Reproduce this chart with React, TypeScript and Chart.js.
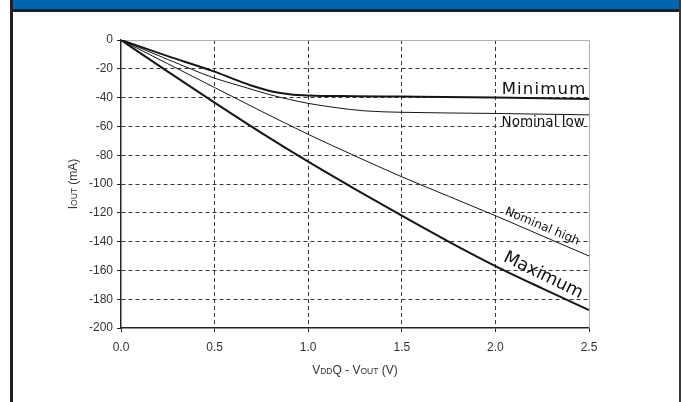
import React, { useEffect, useRef } from "react";
import { Chart, registerables } from "chart.js";

Chart.register(...registerables);

// ---- data ----
const minimumX = [0, 0.25, 0.5, 0.6, 0.7, 0.8, 0.9, 1.0, 1.25, 1.5, 2.0, 2.5];
const minimumY = [0, -11.2, -22, -27, -31.8, -35.6, -37.6, -38.5, -39, -39.3, -40, -41];

const nominalLowX = [0, 0.25, 0.5, 0.64, 0.79, 0.9, 1.0, 1.15, 1.3, 1.5, 2.0, 2.5];
const nominalLowY = [0, -13.5, -26.5, -32, -37.8, -41.3, -44, -47, -49.2, -50.2, -51, -52];

const nominalHighX = [0, 0.25, 0.5, 0.75, 1.0, 1.25, 1.5, 1.75, 2.0, 2.25, 2.5];
const nominalHighY = [0, -16.5, -33, -49.5, -65.5, -80.5, -95, -108.5, -122, -136, -150];

const maximumX = [0, 0.25, 0.5, 0.75, 1.0, 1.25, 1.5, 1.75, 2.0, 2.25, 2.5];
const maximumY = [0, -22, -43.5, -64.5, -84.5, -103.5, -122, -140, -157, -172.5, -187.5];

// curve labels: text, data position, rotation (deg), font size
const labelTexts = ["Minimum", "Nominal low", "Nominal high", "Maximum"];
const labelX = [2.26, 2.255, 2.25, 2.255];
const labelY = [-34.2, -57.6, -129.6, -163.5];
const labelAngle = [0, 0, 23, 26];
const labelSize = [16.5, 13.5, 12, 17.5];
const labelSpacing = [1.2, 0, 0, 0];

const xMin = 0, xMax = 2.5, xStep = 0.5;
const yMin = -200, yMax = 0, yStep = 20;

const xTitleParts: [string, boolean][] = [["V", false], ["DD", true], ["Q - V", false], ["OUT", true], [" (V)", false]];
const yTitleParts: [string, boolean][] = [["I", false], ["OUT", true], [" (mA)", false]];

const toPts = (xs: number[], ys: number[]) => xs.map((x, i) => ({ x, y: ys[i] }));

const FONT = "'Liberation Sans', Arial, sans-serif";

function drawRich(ctx: CanvasRenderingContext2D, parts: [string, boolean][], cx: number, cy: number) {
  const big = 12, small = 8.5;
  let total = 0;
  const widths = parts.map(([t, s]) => {
    ctx.font = `${s ? small : big}px ${FONT}`;
    const w = ctx.measureText(t).width;
    total += w;
    return w;
  });
  let x = cx - total / 2;
  ctx.textBaseline = "alphabetic";
  ctx.textAlign = "left";
  parts.forEach(([t, s], i) => {
    ctx.font = `${s ? small : big}px ${FONT}`;
    ctx.fillText(t, x, cy + 4.5);
    x += widths[i];
  });
}

const decorPlugin = {
  id: "decor",
  beforeDatasetsDraw(chart: any) {
    const { ctx, chartArea: a } = chart;
    ctx.save();
    ctx.strokeStyle = "#b0b0b0";
    ctx.lineWidth = 1;
    ctx.beginPath();
    ctx.moveTo(a.left, a.top + 0.5);
    ctx.lineTo(a.right + 0.5, a.top + 0.5);
    ctx.lineTo(a.right + 0.5, a.bottom);
    ctx.stroke();
    ctx.restore();
  },
  afterDraw(chart: any) {
    const { ctx, chartArea: a, scales } = chart;
    ctx.save();
    ctx.fillStyle = "#333";
    drawRich(ctx, xTitleParts, (a.left + a.right) / 2, a.bottom + 41);
    ctx.translate(a.left - 49, (a.top + a.bottom) / 2);
    ctx.rotate(-Math.PI / 2);
    drawRich(ctx, yTitleParts, 0, 0);
    ctx.restore();

    labelTexts.forEach((t, i) => {
      const px = scales.x.getPixelForValue(labelX[i]);
      const py = scales.y.getPixelForValue(labelY[i]);
      ctx.save();
      ctx.translate(px, py);
      ctx.rotate((labelAngle[i] * Math.PI) / 180);
      ctx.fillStyle = "#111";
      ctx.font = `${labelSize[i]}px 'DejaVu Sans', Verdana, sans-serif`;
      (ctx as any).letterSpacing = `${labelSpacing[i]}px`;
      ctx.textAlign = "center";
      ctx.textBaseline = "middle";
      ctx.fillText(t, 0, 0);
      ctx.restore();
    });
  },
};

export default function App() {
  const ref = useRef<HTMLCanvasElement | null>(null);
  useEffect(() => {
    if (!ref.current) return;
    const gridColor = (edgeA: number, edgeB: number) => (c: any) =>
      c.tick && (c.tick.value === edgeA || c.tick.value === edgeB) ? "rgba(0,0,0,0)" : "#3a3a3a";
    const chart = new Chart(ref.current, {
      type: "line",
      data: {
        datasets: [
          { label: "Minimum", data: toPts(minimumX, minimumY), borderColor: "#151515", borderWidth: 2 },
          { label: "Nominal low", data: toPts(nominalLowX, nominalLowY), borderColor: "#151515", borderWidth: 1 },
          { label: "Nominal high", data: toPts(nominalHighX, nominalHighY), borderColor: "#151515", borderWidth: 1 },
          { label: "Maximum", data: toPts(maximumX, maximumY), borderColor: "#151515", borderWidth: 2 },
        ].map((d) => ({ ...d, pointRadius: 0, fill: false, cubicInterpolationMode: "monotone" as const })),
      },
      options: {
        animation: false,
        responsive: false,
        maintainAspectRatio: false,
        layout: { padding: { left: 71, top: 40, right: 92, bottom: 44 } },
        plugins: { legend: { display: false }, tooltip: { enabled: false }, title: { display: false } },
        scales: {
          x: {
            type: "linear",
            min: xMin,
            max: xMax,
            afterFit: (s: any) => { s.height = 30; },
            ticks: {
              stepSize: xStep,
              callback: (v: any) => Number(v).toFixed(1),
              color: "#333",
              font: { family: FONT, size: 12 },
              padding: 8,
              maxRotation: 0,
            },
            grid: { color: gridColor(xMin, xMax), lineWidth: 1, tickLength: 4, tickColor: "#222", tickBorderDash: [] as number[], drawTicks: true },
            border: { display: true, color: "#222", width: 1.5, dash: [4, 3] },
          },
          y: {
            type: "linear",
            min: yMin,
            max: yMax,
            afterFit: (s: any) => { s.width = 50; },
            ticks: {
              stepSize: yStep,
              color: "#333",
              font: { family: FONT, size: 12 },
              padding: 4,
            },
            grid: { color: gridColor(yMin, yMax), lineWidth: 1, tickLength: 4, tickColor: "#222", tickBorderDash: [] as number[], drawTicks: true },
            border: { display: true, color: "#222", width: 1.5, dash: [4, 3] },
          },
        },
      },
      plugins: [decorPlugin],
    } as any);
    return () => chart.destroy();
  }, []);

  return (
    <div style={{ position: "absolute", left: 0, top: 0, width: 681, height: 402, background: "#fff", overflow: "hidden" }}>
      <div style={{ position: "absolute", left: 13, top: 0, width: 666, height: 9, background: "#0067ab" }} />
      <div style={{ position: "absolute", left: 13, top: 9, width: 666, height: 3, background: "#231f20" }} />
      <div style={{ position: "absolute", left: 10, top: 0, width: 3, height: 402, background: "#231f20" }} />
      <div style={{ position: "absolute", left: 679, top: 0, width: 2, height: 402, background: "#3a3a3a" }} />
      <canvas ref={ref} width={681} height={402} style={{ position: "absolute", left: 0, top: 0, width: 681, height: 402 }} />
    </div>
  );
}
